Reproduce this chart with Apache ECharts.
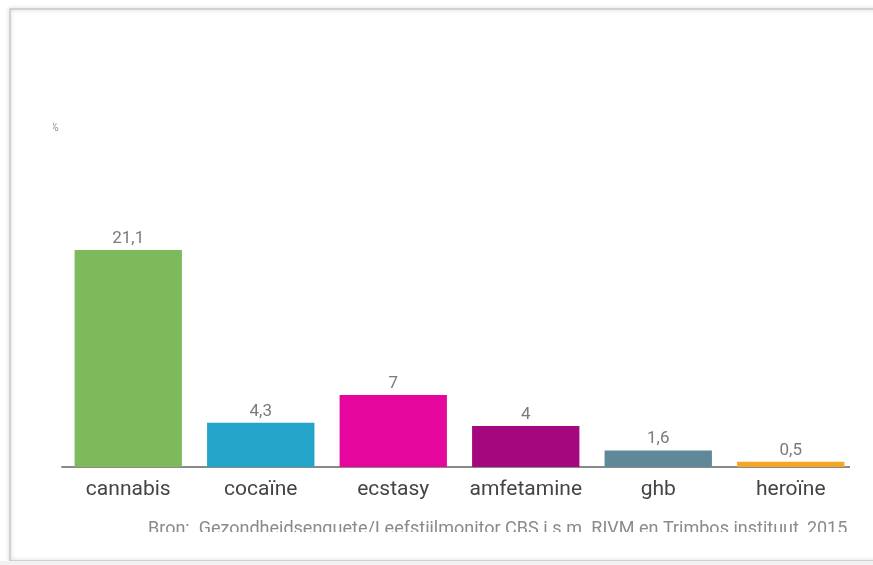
<!DOCTYPE html>
<html>
<head>
<meta charset="utf-8">
<script src="https://cdn.jsdelivr.net/npm/echarts@6/dist/echarts.min.js"></script>
<style>
  html, body { margin: 0; padding: 0; background: #fff; }
  #chart { width: 873px; height: 565px; }
</style>
</head>
<body>
<div id="chart"></div>
<script>
// categorieen en waarden (% ooit gebruikt)
var categories = ['cannabis', 'cocaïne', 'ecstasy', 'amfetamine', 'ghb', 'heroïne'];
var values = [21.1, 4.3, 7, 4, 1.6, 0.5];
var colors = ['#7dba5b', '#22a5c8', '#e5079d', '#a4077e', '#5f8898', '#f5a623'];
var sourceText = 'Bron:  Gezondheidsenquete/Leefstijlmonitor CBS i.s.m. RIVM en Trimbos instituut, 2015';

var myChart = echarts.init(document.getElementById('chart'));

myChart.setOption({
  animation: false,
  grid: {
    left: 62,
    right: 16,
    top: 100,
    bottom: 98 // as op y ~467
  },
  xAxis: {
    type: 'category',
    data: categories,
    axisTick: { show: false },
    axisLine: {
      lineStyle: { color: '#8a8a8a', width: 2 }
    },
    axisLabel: {
      interval: 0,
      hideOverlap: false,
      color: '#444',
      fontSize: 21,
      fontFamily: 'Roboto',
      margin: 12
    }
  },
  yAxis: {
    type: 'value',
    min: 0,
    max: 35.7,
    show: false
  },
  series: [
    {
      type: 'bar',
      barCategoryGap: '19%',
      data: values.map(function (v, i) {
        return { value: v, itemStyle: { color: colors[i] } };
      }),
      label: {
        show: true,
        position: 'top',
        distance: 3,
        color: '#7a7a7a',
        fontSize: 17,
        fontFamily: 'Roboto',
        formatter: function (p) {
          return String(p.value).replace('.', ',');
        }
      }
    }
  ],
  graphic: [
    // afgesneden bronvermelding
    {
      type: 'text',
      left: 148,
      top: 520,
      z: 10,
      style: {
        text: sourceText,
        fill: '#8a8a8a',
        fontSize: 18,
        fontFamily: 'Roboto'
      }
    },
    {
      type: 'rect',
      z: 20,
      shape: { x: 12, y: 532, width: 861, height: 27 },
      style: { fill: '#fff' }
    },
    // rechterrand afgesneden
    {
      type: 'rect',
      z: 20,
      shape: { x: 850, y: 14, width: 23, height: 545 },
      style: { fill: '#fff' }
    },
    // klein restje as-label
    {
      type: 'text',
      left: 50,
      top: 122,
      z: 10,
      style: { text: '%', fill: '#999', fontSize: 12, fontFamily: 'Roboto' }
    },
    {
      type: 'rect',
      z: 21,
      shape: { x: 44, y: 118, width: 9, height: 20 },
      style: { fill: '#fff' }
    },
    // kader van de schermafbeelding
    {
      type: 'rect',
      z: 30,
      shape: { x: 10, y: 9, width: 880, height: 552 },
      style: {
        fill: 'none',
        stroke: '#c8c8c8',
        lineWidth: 1.5,
        shadowBlur: 4,
        shadowColor: 'rgba(0,0,0,0.25)'
      }
    },
    {
      type: 'rect',
      z: 31,
      shape: { x: 0, y: 561, width: 873, height: 4 },
      style: { fill: '#f2f2f2' }
    }
  ]
});
</script>
</body>
</html>
